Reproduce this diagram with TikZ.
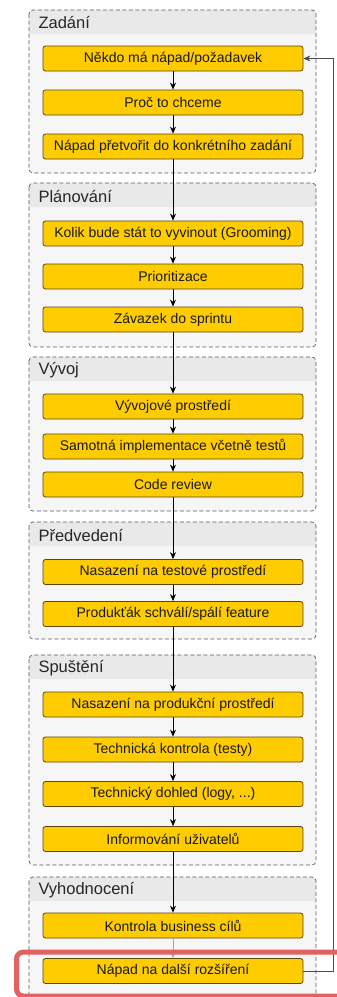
\documentclass[tikz,border=0pt]{standalone}
\usepackage{fontspec}
\setmainfont{Liberation Sans}
\usetikzlibrary{arrows.meta}
\definecolor{StepGold}{RGB}{255,204,0}
\definecolor{StepEdge}{RGB}{95,70,10}
\definecolor{PhaseFill}{RGB}{246,246,246}
\definecolor{PhaseHead}{RGB}{233,233,233}
\definecolor{PhaseEdge}{RGB}{90,90,90}
\definecolor{MarkRed}{RGB}{226,98,98}

\begin{document}
\begin{tikzpicture}[x=1pt,y=-1pt,
  stepbox/.style={draw=StepEdge,line width=0.8pt,fill=StepGold,rounded corners=2.5pt,minimum width=260pt,minimum height=25pt,inner sep=0pt,font=\fontsize{14}{16}\selectfont,text=black!90},
  flow/.style={line width=0.8pt,-{Stealth[length=7pt,width=6pt]}},
  phasetitle/.style={anchor=west,font=\fontsize{16.5}{19}\selectfont,text=black!85}]
\useasboundingbox (0,0) rectangle (337,997);
\fill[white] (0,0) rectangle (337,997);
% phases
\foreach \t/\b/\name in {10/173/Zadání,183/347/Plánování,357/511/Vývoj,522/639/Předvedení,655/865/Spuštění,877/1010/Vyhodnocení}{
  \begin{scope}
    \clip[rounded corners=4pt] (29,\t) rectangle (316,\b);
    \fill[PhaseFill] (29,\t) rectangle (316,\b);
    \fill[PhaseHead] (29,\t) rectangle (316,\t+24);
  \end{scope}
  \draw[PhaseEdge,line width=0.7pt,dash pattern=on 4pt off 2.5pt,rounded corners=4pt] (29,\t) rectangle (316,\b);
  \node[phasetitle] at (35,\t+13) {\name};
}
% steps
\node[stepbox] (za1) at (173,58.5) {Někdo má nápad/požadavek};
\node[stepbox] (za2) at (173,102.5) {Proč to chceme};
\node[stepbox] (za3) at (173,146.5) {Nápad přetvořit do konkrétního zadání};
\node[stepbox] (pl1) at (173,233.5) {Kolik bude stát to vyvinout (Grooming)};
\node[stepbox] (pl2) at (173,276.5) {Prioritizace};
\node[stepbox] (pl3) at (173,319.5) {Závazek do sprintu};
\node[stepbox] (vv1) at (173,406.5) {Vývojové prostředí};
\node[stepbox] (vv2) at (173,446.5) {Samotná implementace včetně testů};
\node[stepbox] (vv3) at (173,484.5) {Code review};
\node[stepbox] (pr1) at (173,572) {Nasazení na testové prostředí};
\node[stepbox] (pr2) at (173,614) {Produkťák schválí/spálí feature};
\node[stepbox] (sp1) at (173,704.5) {Nasazení na produkční prostředí};
\node[stepbox] (sp2) at (173,749.5) {Technická kontrola (testy)};
\node[stepbox] (sp3) at (173,794) {Technický dohled (logy, ...)};
\node[stepbox] (sp4) at (173,839) {Informování uživatelů};
\node[stepbox] (vh1) at (173,925.5) {Kontrola business cílů};
\node[stepbox] (vh2) at (173,971) {Nápad na další rozšíření};
% flow
\foreach \a/\b in {za1/za2,za2/za3,za3/pl1,pl1/pl2,pl2/pl3,pl3/vv1,vv1/vv2,vv2/vv3,vv3/pr1,pr1/pr2,pr2/sp1,sp1/sp2,sp2/sp3,sp3/sp4,sp4/vh1}
  \draw[flow] (\a) -- (\b);
\draw[flow,black!35] (vh1) -- (vh2);
\coordinate (turn) at (333,971);
\draw[flow,draw=black!70] (vh2.east) -- (turn) |- (za1.east);
% highlight
\draw[MarkRed,line width=5pt,rounded corners=7pt] (16.5,952) rectangle (350,996);
\end{tikzpicture}
\end{document}
